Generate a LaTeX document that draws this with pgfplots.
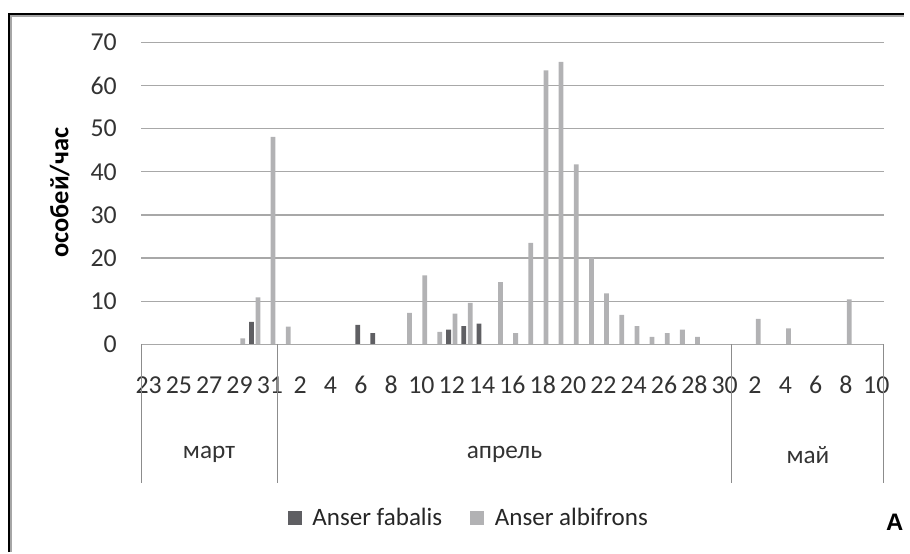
\documentclass[border=0pt]{standalone}
\usepackage{pgfplots}
\pgfplotsset{compat=1.18}
\usepackage{fontspec}
\setmainfont{Carlito}
\newfontfamily\arialf{Liberation Sans}
\definecolor{darkbar}{HTML}{5F5F63}
\definecolor{lightbar}{HTML}{B2B2B4}
\definecolor{gridc}{HTML}{A8A8A8}
\definecolor{sepc}{HTML}{8C8C8C}
\begin{document}
\begin{tikzpicture}
\begin{scope}[x=0.5pt,y=-0.5pt]
\path[use as bounding box] (0,0) rectangle (910,556);
\end{scope}
\begin{axis}[
  at={(71pt,-173.35pt)}, anchor=south west,
  scale only axis, width=374pt, height=152pt,
  xmin=-0.5, xmax=48.5, ymin=0, ymax=70,
  axis line style={draw=none},
  major tick length=0pt,
  ytick={0,10,...,70},
  ymajorgrids, grid style={gridc, line width=0.65pt},
  xtick={0,2,...,48},
  xticklabels={23,25,27,29,31,2,4,6,8,10,12,14,16,18,20,22,24,26,28,30,2,4,6,8,10},
  /pgf/number format/assume math mode=true,
  tick label style={font=\fontsize{13}{15}\selectfont, text=black!80},
  xticklabel style={anchor=base, yshift=-24.9pt, inner sep=0pt},
  yticklabel style={anchor=east, xshift=-12pt, inner sep=0pt},
  ylabel={особей/час},
  every axis y label/.style={at={(axis description cs:-0.1096,0.502)}, rotate=90, anchor=center, font=\bfseries\fontsize{13.3}{15}\selectfont},
  ybar=0.8pt, bar width=2.4pt,
  clip=false,
  legend columns=2,
  legend style={at={(axis description cs:0.4425,-0.5757)}, anchor=center, draw=none, fill=none,
    font=\fontsize{12.6}{15}\selectfont, text=black!85,
    /tikz/every odd column/.append style={column sep=3.5pt},
    /tikz/every even column/.append style={column sep=12pt}},
  legend image code/.code={\fill[#1] (0pt,-3.5pt) rectangle (7pt,3.5pt);},
]
\addplot[fill=darkbar, draw=none] coordinates {
 (7,5.2) (14,4.5) (15,2.6) (20,3.4) (21,4.2) (22,4.8)
};
\addlegendentry{Anser fabalis}
\addplot[fill=lightbar, draw=none] coordinates {
 (6,1.4) (7,10.9) (8,48.1) (9,4.1) (17,7.3) (18,16.0) (19,2.9) (20,7.1) (21,9.6)
 (23,14.4) (24,2.6) (25,23.5) (26,63.5) (27,65.5) (28,41.7) (29,20.1) (30,11.8)
 (31,6.8) (32,4.2) (33,1.7) (34,2.6) (35,3.4) (36,1.7) (40,5.9) (42,3.7) (46,10.4)
};
\addlegendentry{Anser albifrons}
\end{axis}
\begin{scope}[x=0.5pt,y=-0.5pt]
\draw[gridc, line width=0.65pt] (142,346.7) -- (890,346.7);
\foreach \xx in {142,279,737,890} \draw[sepc, line width=0.5pt] (\xx,346.7) -- (\xx,486.7);
\node[font=\fontsize{12.7}{15}\selectfont, text=black!80] at (210.5,458) {март};
\node[font=\fontsize{12.7}{15}\selectfont, text=black!80] at (508,458) {апрель};
\node[font=\fontsize{12.7}{15}\selectfont, text=black!80] at (813.5,458) {май};
\node[font=\arialf\bfseries\fontsize{12}{14}\selectfont] at (901,525.5) {A};
\draw[gray!70, line width=1pt] (11,556) -- (11,15.7) -- (910,15.7);
\draw[black, line width=1.1pt] (9,556) -- (9,13.7) -- (910,13.7);
\end{scope}
\end{tikzpicture}
\end{document}
